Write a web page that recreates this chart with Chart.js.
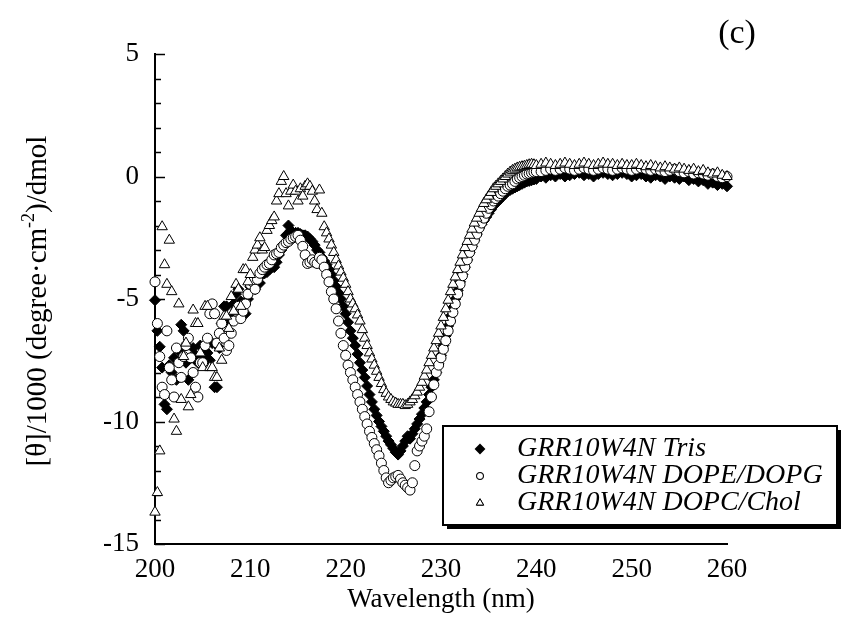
<!DOCTYPE html>
<html>
<head>
<meta charset="utf-8">
<script src="https://cdn.jsdelivr.net/npm/chart.js@4/dist/chart.umd.min.js"></script>
<style>
  html, body { margin: 0; padding: 0; background: #fff; }
  #wrap { width: 841px; height: 633px; }
</style>
</head>
<body>
<div id="wrap"><canvas id="cd"></canvas></div>
<script>
// Longitud de onda (nm): cada 0.25 hasta 240, luego cada 0.5
const wavelength = [
  200, 200.25, 200.5, 200.75, 201, 201.25, 201.5, 201.75, 202, 202.25, 202.5, 202.75,
  203, 203.25, 203.5, 203.75, 204, 204.25, 204.5, 204.75, 205, 205.25, 205.5, 205.75,
  206, 206.25, 206.5, 206.75, 207, 207.25, 207.5, 207.75, 208, 208.25, 208.5, 208.75,
  209, 209.25, 209.5, 209.75, 210, 210.25, 210.5, 210.75, 211, 211.25, 211.5, 211.75,
  212, 212.25, 212.5, 212.75, 213, 213.25, 213.5, 213.75, 214, 214.25, 214.5, 214.75,
  215, 215.25, 215.5, 215.75, 216, 216.25, 216.5, 216.75, 217, 217.25, 217.5, 217.75,
  218, 218.25, 218.5, 218.75, 219, 219.25, 219.5, 219.75, 220, 220.25, 220.5, 220.75,
  221, 221.25, 221.5, 221.75, 222, 222.25, 222.5, 222.75, 223, 223.25, 223.5, 223.75,
  224, 224.25, 224.5, 224.75, 225, 225.25, 225.5, 225.75, 226, 226.25, 226.5, 226.75,
  227, 227.25, 227.5, 227.75, 228, 228.25, 228.5, 228.75, 229, 229.25, 229.5, 229.75,
  230, 230.25, 230.5, 230.75, 231, 231.25, 231.5, 231.75, 232, 232.25, 232.5, 232.75,
  233, 233.25, 233.5, 233.75, 234, 234.25, 234.5, 234.75, 235, 235.25, 235.5, 235.75,
  236, 236.25, 236.5, 236.75, 237, 237.25, 237.5, 237.75, 238, 238.25, 238.5, 238.75,
  239, 239.25, 239.5, 239.75, 240,
  240.5, 241, 241.5, 242, 242.5, 243, 243.5, 244, 244.5, 245,
  245.5, 246, 246.5, 247, 247.5, 248, 248.5, 249, 249.5, 250,
  250.5, 251, 251.5, 252, 252.5, 253, 253.5, 254, 254.5, 255,
  255.5, 256, 256.5, 257, 257.5, 258, 258.5, 259, 259.5, 260
];

// [θ]/1000 de cada muestra
const trisValues = [
  -5.05, -6.3, -6.95, -7.8, -9.3, -9.5, -7.7, -8.0, -7.4, -8.3, -7.1, -6.05,
  -6.3, -7.6, -8.3, -7.4, -7.0, -7.3, -7.6, -6.9, -7.4, -7.1, -7.2, -7.5,
  -6.8, -8.6, -8.6, -7.0, -6.0, -5.3, -5.3, -5.9, -5.8, -5.2, -4.8, -4.6,
  -5.1, -5.6, -5.6, -5.0, -4.5, -4.4, -4.6, -4.4, -4.35, -4.0, -3.95, -3.9,
  -3.8, -3.7, -3.7, -3.5, -3.2, -3.0, -2.85, -2.4, -2.0, -2.2, -2.3, -2.3,
  -2.3, -2.35, -2.4, -2.4, -2.45, -2.55, -2.65, -2.8, -3.0, -3.1, -3.3, -3.45,
  -3.6, -3.8, -4.0, -4.25, -4.5, -4.75, -5.0, -5.3, -5.6, -5.95, -6.3, -6.6,
  -6.9, -7.25, -7.6, -7.9, -8.2, -8.55, -8.9, -9.2, -9.5, -9.75, -10.0, -10.2,
  -10.4, -10.6, -10.8, -10.95, -11.1, -11.25, -11.35, -11.2, -11.0, -10.8, -10.6, -10.7,
  -10.5, -10.3, -10.1, -9.9, -9.7, -9.45, -9.2, -8.9, -8.6, -8.3, -8.0, -7.65,
  -7.3, -6.9, -6.5, -6.1, -5.7, -5.35, -5.0, -4.65, -4.3, -4.0, -3.7, -3.4,
  -3.1, -2.85, -2.6, -2.35, -2.1, -1.95, -1.8, -1.65, -1.5, -1.35, -1.2, -1.1,
  -1.0, -0.9, -0.8, -0.7, -0.6, -0.55, -0.5, -0.45, -0.4, -0.35, -0.3, -0.25,
  -0.2, -0.18, -0.15, -0.12, -0.1,
  0.0, -0.05, 0.05, 0.0, 0.1, 0.0, 0.05, 0.1, 0.15, 0.05,
  0.1, 0.0, 0.1, 0.15, 0.1, 0.05, 0.1, 0.15, 0.1, 0.0,
  0.05, 0.1, 0.0, -0.05, 0.05, 0.0, -0.1, 0.0, -0.05, -0.1,
  0.0, -0.15, -0.1, -0.2, -0.15, -0.3, -0.25, -0.35, -0.3, -0.4
];
const dopeDopgValues = [
  -4.3, -6.0, -7.35, -8.6, -8.9, -6.3, -7.8, -8.3, -9.0, -7.0, -7.6, -8.2,
  -7.35, -6.9, -6.6, -7.4, -8.0, -8.6, -9.0, -7.6, -7.6, -6.9, -6.6, -5.6,
  -5.2, -5.6, -6.8, -6.4, -6.0, -6.6, -7.1, -6.9, -6.4, -5.9, -5.45, -5.3,
  -5.8, -5.5, -5.2, -4.8, -4.4, -4.3, -4.6, -4.2, -3.95, -3.8, -3.7, -3.6,
  -3.55, -3.4, -3.2, -3.15, -3.1, -2.9, -2.8, -2.7, -2.65, -2.55, -2.5, -2.45,
  -2.4, -2.6, -2.85, -3.2, -3.55, -3.5, -3.4, -3.5, -3.55, -3.3, -3.4, -3.7,
  -4.0, -4.3, -4.7, -5.0, -5.4, -5.9, -6.4, -6.9, -7.3, -7.7, -8.0, -8.3,
  -8.6, -8.9, -9.2, -9.5, -9.8, -10.1, -10.4, -10.65, -10.9, -11.15, -11.4, -11.7,
  -12.0, -12.3, -12.5, -12.4, -12.3, -12.25, -12.2, -12.35, -12.5, -12.6, -12.7, -12.8,
  -12.5, -11.8, -11.2, -11.0, -10.8, -10.6, -10.3, -9.6, -9.0, -8.5, -8.0, -7.7,
  -7.4, -7.05, -6.7, -6.3, -5.9, -5.55, -5.2, -4.8, -4.4, -4.05, -3.7, -3.4,
  -3.1, -2.85, -2.6, -2.35, -2.1, -1.9, -1.7, -1.5, -1.3, -1.15, -1.0, -0.9,
  -0.8, -0.7, -0.6, -0.5, -0.4, -0.35, -0.3, -0.2, -0.1, -0.05, 0.0, 0.05,
  0.1, 0.12, 0.15, 0.18, 0.2,
  0.2, 0.25, 0.3, 0.25, 0.3, 0.35, 0.3, 0.25, 0.3, 0.35,
  0.3, 0.25, 0.3, 0.35, 0.3, 0.25, 0.3, 0.35, 0.3, 0.25,
  0.3, 0.35, 0.3, 0.25, 0.3, 0.25, 0.2, 0.25, 0.3, 0.2,
  0.15, 0.2, 0.1, 0.15, 0.1, 0.05, 0.1, 0.0, -0.05, 0.0
];
const dopcCholValues = [
  -13.7, -12.9, -11.2, -2.05, -3.6, -4.4, -2.6, -4.7, -9.9, -10.4, -5.2, -9.1,
  -7.35, -6.8, -9.4, -8.9, -5.45, -6.0, -6.0, -7.2, -7.8, -5.3, -5.3, -7.8,
  -7.8, -8.2, -8.2, -7.0, -7.5, -5.7, -5.7, -6.2, -4.9, -5.5, -4.4, -4.6,
  -5.3, -3.8, -3.8, -4.3, -4.0, -3.3, -3.0, -2.8, -2.5, -3.0, -2.9, -2.2,
  -2.0, -1.8, -1.65, -1.0, -0.7, -0.2, 0.0, -0.7, -1.2, -0.6, -0.35, -0.6,
  -1.0, -0.5, -0.8, -0.4, -0.3, -0.4, -0.6, -1.0, -1.35, -0.55, -1.5, -2.05,
  -2.3, -2.55, -2.8, -3.1, -3.4, -3.65, -3.9, -4.15, -4.4, -4.7, -5.0, -5.2,
  -5.4, -5.65, -5.9, -6.25, -6.6, -6.9, -7.2, -7.45, -7.7, -7.95, -8.2, -8.45,
  -8.7, -8.85, -9.0, -9.1, -9.2, -9.25, -9.3, -9.3, -9.3, -9.35, -9.3, -9.2,
  -9.1, -8.95, -8.8, -8.6, -8.4, -8.15, -7.9, -7.6, -7.3, -7.0, -6.7, -6.4,
  -6.1, -5.75, -5.4, -5.05, -4.7, -4.4, -4.1, -3.8, -3.5, -3.2, -2.9, -2.65,
  -2.4, -2.15, -1.9, -1.7, -1.5, -1.3, -1.1, -0.95, -0.8, -0.65, -0.5, -0.4,
  -0.3, -0.2, -0.1, 0.0, 0.1, 0.18, 0.25, 0.3, 0.35, 0.38, 0.4, 0.42,
  0.45, 0.48, 0.5, 0.48, 0.45,
  0.5, 0.55, 0.5, 0.45, 0.5, 0.55, 0.5, 0.45, 0.5, 0.55,
  0.5, 0.45, 0.5, 0.55, 0.5, 0.5, 0.45, 0.5, 0.45, 0.45,
  0.5, 0.45, 0.4, 0.45, 0.4, 0.35, 0.4, 0.35, 0.3, 0.35,
  0.3, 0.25, 0.3, 0.2, 0.25, 0.15, 0.1, 0.15, 0.05, 0.0
];

const seriesNames = ['GRR10W4N Tris', 'GRR10W4N DOPE/DOPG', 'GRR10W4N DOPC/Chol'];
const panelLabel = '(c)';

const SERIF = '"Liberation Serif", "Times New Roman", serif';

const toPoints = ys => wavelength.map((x, i) => ({ x: x, y: ys[i] }));

// Marcas hacia dentro en el eje Y
const innerTicks = {
  id: 'innerTicks',
  beforeDatasetsDraw(chart) {
    const { ctx, chartArea, scales } = chart;
    const y = scales.y;
    ctx.save();
    ctx.strokeStyle = '#000';
    ctx.lineWidth = 1.5;
    y.ticks.forEach(t => {
      const py = Math.round(y.getPixelForValue(t.value)) + 0.5;
      const len = t.value % 5 === 0 ? 10 : 6;
      ctx.beginPath();
      ctx.moveTo(chartArea.left, py);
      ctx.lineTo(chartArea.left + len, py);
      ctx.stroke();
    });
    ctx.restore();
  }
};

// Títulos, etiqueta (c) y leyenda con sombra
const extras = {
  id: 'extras',
  afterDraw(chart) {
    const { ctx } = chart;
    ctx.save();
    ctx.fillStyle = '#000';

    // (c)
    ctx.font = '34px ' + SERIF;
    ctx.textAlign = 'center';
    ctx.textBaseline = 'alphabetic';
    ctx.fillText(panelLabel, 737, 43);

    // eje X
    ctx.font = '27px ' + SERIF;
    ctx.fillText('Wavelength (nm)', 441, 607);

    // eje Y con superíndice
    const parts = [
      { t: '[θ]/1000 (degree·cm', f: '29px ' + SERIF, dy: 0 },
      { t: '-2', f: '18px ' + SERIF, dy: -12 },
      { t: ')/dmol', f: '29px ' + SERIF, dy: 0 }
    ];
    let total = 0;
    parts.forEach(p => { ctx.font = p.f; p.w = ctx.measureText(p.t).width; total += p.w; });
    ctx.translate(46, 301);
    ctx.rotate(-Math.PI / 2);
    ctx.textAlign = 'left';
    let cx = -total / 2;
    parts.forEach(p => { ctx.font = p.f; ctx.fillText(p.t, cx, p.dy); cx += p.w; });
    ctx.setTransform(1, 0, 0, 1, 0, 0);

    // leyenda
    const bx = 443, by = 426, bw = 394, bh = 99;
    ctx.fillRect(bx + 4, by + 4, bw, bh);
    ctx.fillStyle = '#fff';
    ctx.fillRect(bx, by, bw, bh);
    ctx.strokeStyle = '#000';
    ctx.lineWidth = 2;
    ctx.strokeRect(bx, by, bw, bh);

    ctx.font = 'italic 28px ' + SERIF;
    ctx.textAlign = 'left';
    chart.data.datasets.forEach((ds, i) => {
      const base = 456 + i * 27;
      Chart.helpers.drawPoint(ctx, {
        pointStyle: ds.pointStyle,
        radius: ds.legendRadius,
        borderWidth: 1
      }, 480, base - 7);
      ctx.fillStyle = ds.backgroundColor;
      ctx.strokeStyle = '#000';
      ctx.lineWidth = 1;
      ctx.fill();
      ctx.stroke();
      ctx.fillStyle = '#000';
      ctx.fillText(ds.label, 517, base);
    });
    ctx.restore();
  }
};

const data = {
  datasets: [
    {
      label: seriesNames[0],
      data: toPoints(trisValues),
      pointStyle: 'rectRot',
      radius: 5.5,
      legendRadius: 4,
      backgroundColor: '#000',
      borderColor: '#000',
      borderWidth: 1,
      order: 2,
      clip: false
    },
    {
      label: seriesNames[1],
      data: toPoints(dopeDopgValues),
      pointStyle: 'circle',
      radius: 5,
      legendRadius: 3.5,
      backgroundColor: '#fff',
      borderColor: '#000',
      borderWidth: 1,
      order: 1,
      clip: false
    },
    {
      label: seriesNames[2],
      data: toPoints(dopcCholValues),
      pointStyle: 'triangle',
      radius: 6,
      legendRadius: 4.2,
      backgroundColor: '#fff',
      borderColor: '#000',
      borderWidth: 1,
      order: 0,
      clip: false
    }
  ]
};

const config = {
  type: 'scatter',
  data: data,
  options: {
    responsive: true,
    maintainAspectRatio: false,
    animation: false,
    layout: { padding: { top: 54, right: 114, left: 0, bottom: 0 } },
    plugins: {
      legend: { display: false },
      tooltip: { enabled: false }
    },
    scales: {
      x: {
        type: 'linear',
        min: 200,
        max: 260,
        grid: { display: false, drawTicks: false },
        border: { display: true, color: '#000', width: 2 },
        ticks: {
          stepSize: 10,
          padding: 10,
          color: '#000',
          font: { family: SERIF, size: 27 }
        },
        afterFit: s => { s.height = 89; }
      },
      y: {
        type: 'linear',
        min: -15,
        max: 5,
        grid: { display: false, drawTicks: false },
        border: { display: true, color: '#000', width: 2 },
        ticks: {
          stepSize: 1,
          autoSkip: false,
          padding: 16,
          color: '#000',
          font: { family: SERIF, size: 27 },
          callback: v => (v % 5 === 0 ? String(v) : '')
        },
        afterFit: s => { s.width = 155; }
      }
    }
  },
  plugins: [innerTicks, extras]
};

const cdChart = new Chart(document.getElementById('cd'), config);
</script>
</body>
</html>
